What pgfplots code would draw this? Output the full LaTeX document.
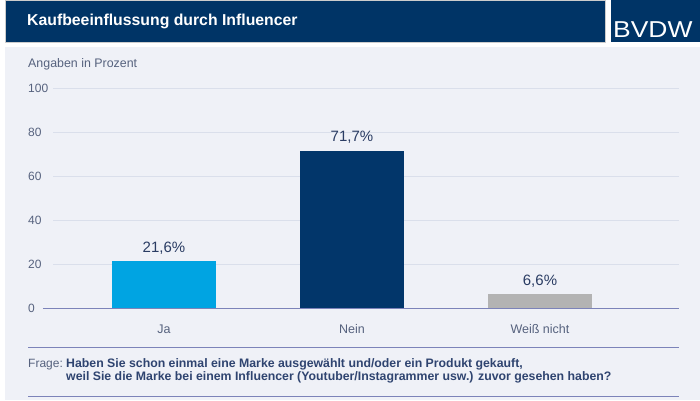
\documentclass[border=0pt]{standalone}
\usepackage{fontspec}
\setmainfont{Liberation Sans}
\newfontfamily\logofont[FakeStretch=1.15]{Liberation Sans}
\usepackage{pgfplots}
\pgfplotsset{compat=1.18}
\definecolor{navy}{HTML}{003466}
\definecolor{barnavy}{HTML}{02366A}
\definecolor{jablue}{HTML}{00A4E2}
\definecolor{greybar}{HTML}{B3B3B3}
\definecolor{panel}{HTML}{EFF1F7}
\definecolor{gridc}{HTML}{DADFEB}
\definecolor{axisc}{HTML}{7C83B9}
\definecolor{tickc}{HTML}{56627E}
\definecolor{labc}{HTML}{2A3C63}
\definecolor{textc}{HTML}{2F4470}
\begin{document}
\begin{tikzpicture}[x=1pt,y=1pt]
\fill[white] (0,0) rectangle (700,400);
\fill[panel] (5,0) rectangle (700,353);
\fill[navy] (5,358) rectangle (605,400);
\draw[gray!40, line width=0.6pt] (5,358) rectangle (605,400);
\fill[navy] (610.5,358) rectangle (700,400);
\node[anchor=base west, inner sep=0pt, text=white, font=\bfseries\fontsize{15.8}{18}\selectfont] at (27,375) {Kaufbeeinflussung durch Influencer};
\node[anchor=base west, inner sep=0pt, text=white, font=\logofont\fontsize{23}{26}\selectfont] at (613,362.7) {BVDW};
\node[anchor=base west, inner sep=0pt, text=tickc, font=\fontsize{12.4}{14}\selectfont] at (28,332.5) {Angaben in Prozent};
\begin{axis}[
  at={(53pt,91.5pt)}, anchor=south west,
  scale only axis, width=626pt, height=220pt,
  xmin=-0.5904, xmax=2.7394, ymin=0, ymax=100,
  ybar, bar width=104pt,
  axis line style={draw=none}, tick style={draw=none},
  ytick={0,20,40,60,80,100},
  ymajorgrids, grid style={gridc, line width=1pt},
  xtick={0,1,2}, xticklabels={Ja,Nein,Wei\ss{} nicht},
  yticklabel style={anchor=west, inner sep=0pt, xshift=-25pt, text=tickc, font=\fontsize{12}{14}\selectfont},
  xticklabel style={anchor=north, inner sep=0pt, yshift=-11pt, text=tickc, text height=9pt, text depth=2.5pt, font=\fontsize{12.5}{14}\selectfont},
  /pgf/number format/assume math mode=true,
  clip=false,
  point meta=explicit symbolic,
  nodes near coords,
  nodes near coords style={anchor=south, inner sep=0pt, yshift=7pt, text=labc, font=\fontsize{15}{17}\selectfont},
]
\addplot[fill=jablue, draw=none, bar shift=0pt] coordinates {(0,21.6) [21,6\%]};
\addplot[fill=barnavy, draw=none, bar shift=0pt] coordinates {(1,71.7) [71,7\%]};
\addplot[fill=greybar, draw=none, bar shift=0pt] coordinates {(2,6.6) [6,6\%]};
\draw[axisc, line width=1.3pt] (axis cs:-0.6436,0) -- (axis cs:2.7394,0);
\end{axis}
\draw[axisc, line width=1.3pt] (28,53) -- (679,53);
\draw[axisc, line width=1.3pt] (28,4) -- (679,4);
\node[anchor=base west, inner sep=0pt, text=tickc, font=\fontsize{12}{14}\selectfont] at (28,33) {Frage:};
\node[anchor=base west, inner sep=0pt, text=textc, font=\bfseries\fontsize{12.3}{14}\selectfont] at (66,33) {Haben Sie schon einmal eine Marke ausgewählt und/oder ein Produkt gekauft,};
\node[anchor=base west, inner sep=0pt, text=textc, font=\bfseries\fontsize{12.3}{14}\selectfont] at (66,19.3) {weil Sie die Marke bei einem Influencer (Youtuber/Instagrammer usw.) zuvor gesehen haben?};
\end{tikzpicture}
\end{document}
